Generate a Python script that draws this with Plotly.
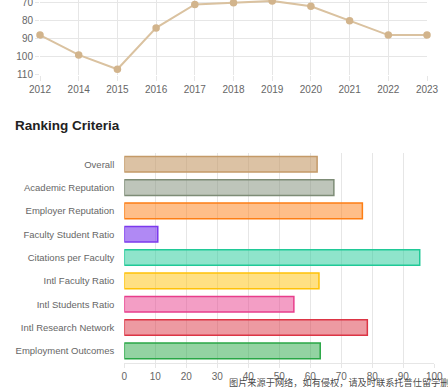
import plotly.graph_objects as go

# ---- data ----
years = ["2012", "2014", "2015", "2016", "2017", "2018", "2019", "2020", "2021", "2022", "2023"]
ranks = [88, 99, 107, 84, 71, 70, 69, 72, 80, 88, 88]

criteria = ["Overall", "Academic Reputation", "Employer Reputation", "Faculty Student Ratio",
            "Citations per Faculty", "Intl Faculty Ratio", "Intl Students Ratio",
            "Intl Research Network", "Employment Outcomes"]
scores = [62.2, 67.6, 76.8, 10.8, 95.3, 62.8, 54.7, 78.4, 63.2]

border_colors = ["rgb(196,154,104)", "rgb(125,140,118)", "rgb(253,126,20)", "rgb(124,58,237)",
                 "rgb(32,201,151)", "rgb(255,193,7)", "rgb(232,62,140)", "rgb(220,53,69)",
                 "rgb(40,167,69)"]
fill_colors = ["rgba(196,154,104,0.6)", "rgba(125,140,118,0.5)", "rgba(253,126,20,0.5)",
               "rgba(124,58,237,0.6)", "rgba(32,201,151,0.5)", "rgba(255,193,7,0.5)",
               "rgba(232,62,140,0.5)", "rgba(220,53,69,0.5)", "rgba(40,167,69,0.5)"]

W, H = 448, 392
FONT = "Liberation Sans, Arial, sans-serif"
GRID = "#e6e6e6"
TICKC = "#666666"

fig = go.Figure()

fig.add_trace(go.Scatter(
    x=years, y=ranks, mode="lines+markers",
    line=dict(color="rgba(218,194,160,1)", width=2),
    marker=dict(color="rgb(210,180,140)", size=7.5),
    cliponaxis=False, xaxis="x", yaxis="y", showlegend=False,
))

fig.add_trace(go.Bar(
    x=scores, y=criteria, orientation="h", width=0.67,
    marker=dict(color=fill_colors, line=dict(color=border_colors, width=1.5)),
    xaxis="x2", yaxis="y2", showlegend=False,
))

fig.update_layout(
    width=W, height=H,
    margin=dict(l=0, r=0, t=0, b=0, autoexpand=False),
    paper_bgcolor="white", plot_bgcolor="white",
    font=dict(family=FONT, size=10, color=TICKC),
    xaxis=dict(
        domain=[40 / W, 427 / W], type="category", range=[0, 10],
        showgrid=True, gridcolor=GRID, gridwidth=1,
        ticks="outside", ticklen=5, tickcolor=GRID,
        tickfont=dict(size=10, color=TICKC), showline=False, zeroline=False,
        anchor="y", automargin=False, ticklabeloverflow="allow",
    ),
    yaxis=dict(
        domain=[1 - 74.7 / H, 1], range=[110, 68.5], tickvals=[70, 80, 90, 100, 110],
        showgrid=True, gridcolor=GRID, gridwidth=1,
        ticks="outside", ticklen=4, tickcolor=GRID,
        tickfont=dict(size=10, color=TICKC), zeroline=False, anchor="x", automargin=False,
        ticklabeloverflow="allow",
    ),
    xaxis2=dict(
        domain=[124.3 / W, 434.3 / W], range=[0, 100], dtick=10,
        showgrid=True, gridcolor=GRID, gridwidth=1,
        ticks="outside", ticklen=4, tickcolor=GRID,
        showline=True, linecolor=GRID, linewidth=1,
        tickfont=dict(size=10, color=TICKC), zeroline=False, anchor="y2", automargin=False,
        ticklabeloverflow="allow",
    ),
    yaxis2=dict(
        domain=[1 - 362.5 / H, 1 - 152.6 / H], type="category",
        categoryorder="array", categoryarray=criteria, range=[8.5, -0.5],
        showgrid=False, ticks="", ticklabelstandoff=9,
        tickfont=dict(size=9.5, color=TICKC), zeroline=False, anchor="x2", automargin=False,
    ),
    annotations=[
        dict(text="<b>Ranking Criteria</b>", xref="paper", yref="paper",
             x=13 / W, y=1 - 125.7 / H, xanchor="left", yanchor="middle",
             showarrow=False, font=dict(size=13.5, color="#222222", family=FONT)),
        dict(text="图片来源于网络，如有侵权，请及时联系托普仕留学删除", xref="paper", yref="paper",
             x=227 / W, y=1 - 381.5 / H, xanchor="left", yanchor="middle",
             showarrow=False,
             font=dict(size=9.2, color="rgba(60,60,60,0.95)", family="Noto Sans CJK SC")),
    ],
)

fig.write_html("out.html", config={"displayModeBar": False},
               post_script="document.body.style.margin='0';")
